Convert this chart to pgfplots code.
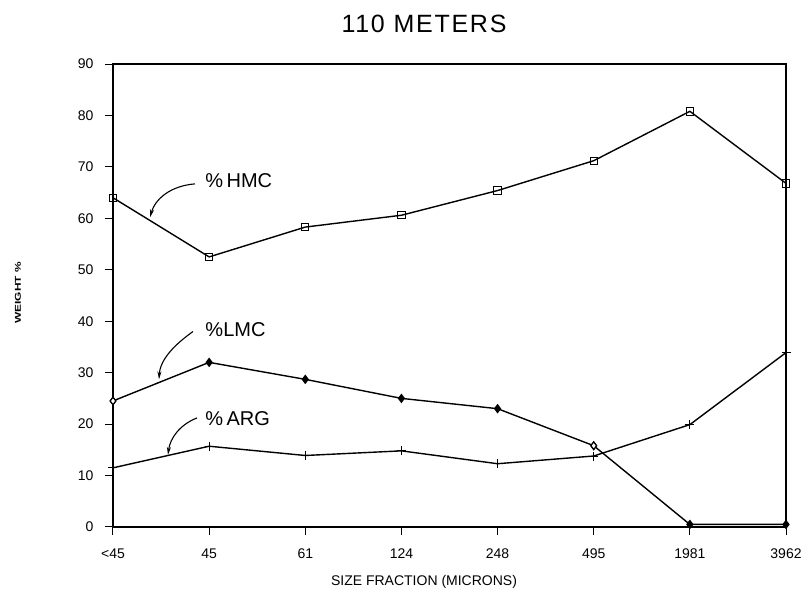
\documentclass[border=0pt]{standalone}
\usepackage{fontspec}
\setmainfont{Liberation Sans}
\newfontfamily\titlefont[LetterSpace=7]{Liberation Sans}
\usepackage{graphicx}
\usepackage{pgfplots}
\pgfplotsset{compat=1.18}
\usetikzlibrary{arrows.meta,calc}

\begin{document}
\begin{tikzpicture}
\begin{axis}[
  name=ax,
  scale only axis,
  width=673pt, height=463pt,
  xmin=0, xmax=7, ymin=0, ymax=90,
  xtick={0,...,7},
  xticklabels={<45,45,61,124,248,495,1981,3962},
  ytick={0,10,...,90},
  xtick pos=lower, ytick pos=lower,
  tick align=outside,
  major tick length=8pt,
  axis line style={line width=1.2pt},
  every tick/.style={black, line width=1pt},
  ticklabel style={font=\fontsize{14}{14}\selectfont},
  yticklabel style={xshift=-8pt},
  xticklabel style={yshift=-10pt},
  /pgf/number format/assume math mode=true,
  clip=false,
]
  % %HMC
  \addplot[black, line width=1.4pt, mark=square, mark size=3.7pt, mark options={line width=1pt}] coordinates {
    (0,64) (1,52.5) (2,58.3) (3,60.6) (4,65.4) (5,71.2) (6,80.8) (7,66.8)
  };
  % %LMC
  \addplot[black, line width=1.4pt, mark=diamond*, mark size=3.7pt] coordinates {
    (0,24.5) (1,32) (2,28.7) (3,25) (4,23) (5,15.8) (6,0.5) (7,0.5)
  };
  \addplot[only marks, black, mark=diamond*, mark size=3.7pt, mark options={fill=white, line width=1.1pt}] coordinates {
    (0,24.5) (5,15.8)
  };
  % %ARG
  \addplot[black, line width=1.4pt, mark=+, mark size=4.5pt, mark options={line width=1pt}] coordinates {
    (0,11.5) (1,15.7) (2,13.9) (3,14.8) (4,12.3) (5,13.8) (6,19.9) (7,33.9)
  };

  \node[anchor=west, font=\fontsize{20}{20}\selectfont, inner sep=0pt] at (axis cs:0.96,67.3) {\%\,HMC};
  \node[anchor=west, font=\fontsize{20}{20}\selectfont, inner sep=0pt] at (axis cs:0.96,38.4) {\%LMC};
  \node[anchor=west, font=\fontsize{20}{20}\selectfont, inner sep=0pt] at (axis cs:0.96,21.0) {\%\,ARG};

  \draw[line width=1.1pt, -{Stealth[length=8pt,width=4pt]}]
    (axis cs:0.853,66.7) .. controls (axis cs:0.593,66.3) and (axis cs:0.437,63.7) .. (axis cs:0.385,60.2);
  \draw[line width=1.1pt, -{Stealth[length=8pt,width=4pt]}]
    (axis cs:0.832,38.0) .. controls (axis cs:0.645,35.5) and (axis cs:0.489,32.6) .. (axis cs:0.479,28.7);
  \draw[line width=1.1pt, -{Stealth[length=8pt,width=4pt]}]
    (axis cs:0.874,21.2) .. controls (axis cs:0.697,19.9) and (axis cs:0.593,17.3) .. (axis cs:0.572,14.0);
\end{axis}

\begin{scope}[shift={(ax.south west)}]
  \node[font=\titlefont\fontsize{25}{25}\selectfont] at (311pt,503.5pt) {110 METERS};
  \node[font=\fontsize{14}{14}\selectfont] at (311pt,-55pt) {SIZE FRACTION (MICRONS)};
  \node[rotate=90] at (-95pt,234pt) {\scalebox{1.4}[1]{\bfseries\fontsize{8.5}{8.5}\selectfont WEIGHT \%}};
\end{scope}

\pgfresetboundingbox
\path[use as bounding box] ($(ax.south west)+(-113pt,-64pt)$) rectangle ++(806pt,591pt);
\end{tikzpicture}
\end{document}
